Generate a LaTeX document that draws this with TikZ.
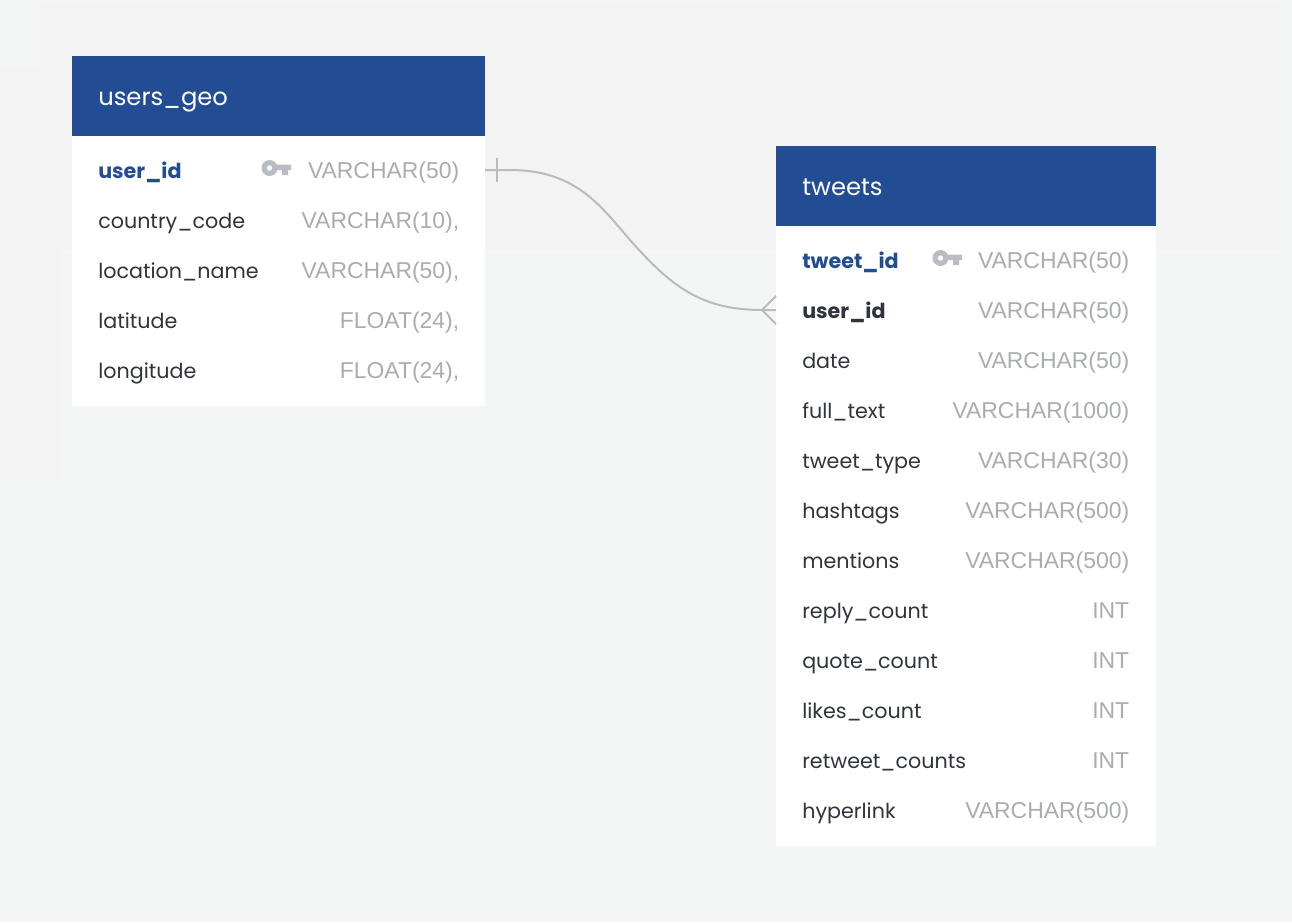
\documentclass[tikz,border=0pt]{standalone}
\usepackage{fontspec}
\setmainfont{Poppins}
\newfontfamily\typefont{Liberation Sans}
\definecolor{bgA}{HTML}{F4F5F5}
\definecolor{bgB}{HTML}{F3F3F3}
\definecolor{hdr}{HTML}{224D94}
\definecolor{ink}{HTML}{2F343D}
\definecolor{typec}{HTML}{A9ACB2}
\definecolor{keyc}{HTML}{B9BCC4}
\definecolor{wire}{HTML}{BBBBBB}
\tikzset{
  x=0.75pt,y=-0.75pt,
  hdrbox/.style={fill=hdr,draw=none},
  bodybox/.style={fill=white,draw=none},
  title/.style={anchor=base west,inner sep=0pt,text=white,font=\fontsize{18.2}{22}\selectfont},
  col/.style={anchor=base west,inner sep=0pt,text=ink,font=\fontsize{15.5}{20}\selectfont},
  colpk/.style={anchor=base west,inner sep=0pt,text=hdr,font=\fontsize{15.5}{20}\selectfont\bfseries},
  colfk/.style={anchor=base west,inner sep=0pt,text=ink,font=\fontsize{15.5}{20}\selectfont\bfseries},
  typ/.style={anchor=base east,inner sep=0pt,text=typec,font=\typefont\fontsize{17.2}{20}\selectfont},
  wireline/.style={draw=wire,line width=1.5pt},
}
\newcommand{\keyicon}[2]{%
  \fill[keyc,even odd rule] (#1+8.5,#2) circle[radius=8] (#1+8.5,#2) circle[radius=2.8];
  \fill[keyc] (#1+14,#2-3.5) -- (#1+30,#2-3.5) -- (#1+30,#2+2) -- (#1+27,#2+2) -- (#1+27,#2+7) -- (#1+21,#2+7) -- (#1+21,#2+2) -- (#1+14,#2+2) -- cycle;
}
\begin{document}
\begin{tikzpicture}
\useasboundingbox (0,0) rectangle (1292,922);
\fill[bgA] (0,0) rectangle (1292,922);
\fill[bgB] (40,5) rectangle (1280,250);
\fill[bgB] (0,68) rectangle (60,480);
% users_geo
\fill[hdrbox] (72,56) rectangle (485,136);
\fill[bodybox] (72,136) rectangle (485,406);
\node[title] (ugT) at (98,105) {users\_geo};
\node[colpk] (ug1) at (98,178) {user\_id};
\node[col] (ug2) at (98,228) {country\_code};
\node[col] (ug3) at (98,278) {location\_name};
\node[col] (ug4) at (98,328) {latitude};
\node[col] (ug5) at (98,378) {longitude};
\keyicon{261}{168}
\node[typ] (ug1t) at (459.5,178) {VARCHAR(50)};
\node[typ] (ug2t) at (459.5,228) {VARCHAR(10),};
\node[typ] (ug3t) at (459.5,278) {VARCHAR(50),};
\node[typ] (ug4t) at (459.5,328) {FLOAT(24),};
\node[typ] (ug5t) at (459.5,378) {FLOAT(24),};
% tweets
\fill[hdrbox] (776,146) rectangle (1155.5,226);
\fill[bodybox] (776,226) rectangle (1155.5,846);
\node[title] (twT) at (802,195) {tweets};
\node[colpk] (tw1) at (802,268) {tweet\_id};
\node[colfk] (tw2) at (802,318) {user\_id};
\node[col] (tw3) at (802,368) {date};
\node[col] (tw4) at (802,418) {full\_text};
\node[col] (tw5) at (802,468) {tweet\_type};
\node[col] (tw6) at (802,518) {hashtags};
\node[col] (tw7) at (802,568) {mentions};
\node[col] (tw8) at (802,618) {reply\_count};
\node[col] (tw9) at (802,668) {quote\_count};
\node[col] (tw10) at (802,718) {likes\_count};
\node[col] (tw11) at (802,768) {retweet\_counts};
\node[col] (tw12) at (802,818) {hyperlink};
\keyicon{932}{258}
\node[typ] (tw1t) at (1129.5,268) {VARCHAR(50)};
\node[typ] (tw2t) at (1129.5,318) {VARCHAR(50)};
\node[typ] (tw3t) at (1129.5,368) {VARCHAR(50)};
\node[typ] (tw4t) at (1129.5,418) {VARCHAR(1000)};
\node[typ] (tw5t) at (1129.5,468) {VARCHAR(30)};
\node[typ] (tw6t) at (1129.5,518) {VARCHAR(500)};
\node[typ] (tw7t) at (1129.5,568) {VARCHAR(500)};
\node[typ] (tw8t) at (1129.5,618) {INT};
\node[typ] (tw9t) at (1129.5,668) {INT};
\node[typ] (tw10t) at (1129.5,718) {INT};
\node[typ] (tw11t) at (1129.5,768) {INT};
\node[typ] (tw12t) at (1129.5,818) {VARCHAR(500)};
% connector
\coordinate (src) at (485,170);
\coordinate (dst) at (776,310);
\draw[wireline] (src) -- (510,170) .. controls (575,170) and (600,205) .. (630,240) .. controls (670,285) and (700,310) .. (762,310) -- (dst);
\draw[wireline] (497,158) -- (497,182);
\draw[wireline] (776,296) -- (762,310) -- (776,324);
\end{tikzpicture}
\end{document}
